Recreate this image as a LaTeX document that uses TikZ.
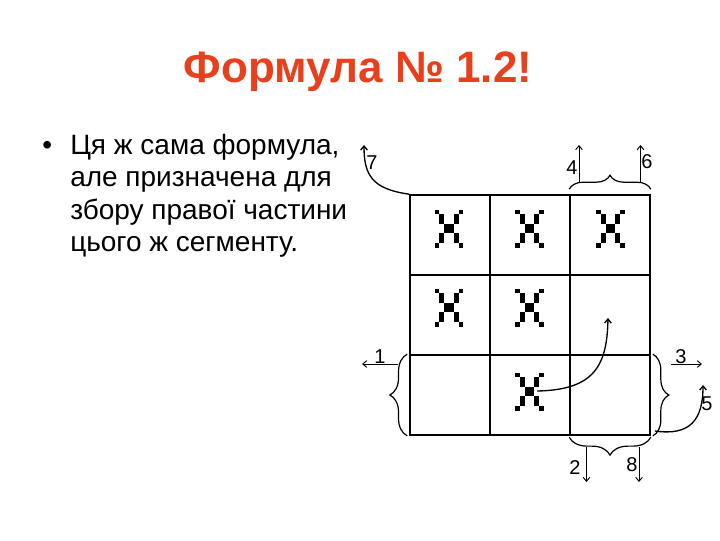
\documentclass[tikz,border=0pt]{standalone}
\usepackage{fontspec}
\setmainfont{Liberation Sans}
\usetikzlibrary{arrows.meta,decorations.pathreplacing}
\definecolor{titlered}{RGB}{232,64,28}
\begin{document}
\begin{tikzpicture}[x=0.75pt,y=-0.75pt,
  cell/.style={draw,line width=1.2pt,minimum width=60pt,minimum height=60pt,inner sep=0pt},
  brc/.style={decorate,line width=0.9pt},
  arr/.style={-{Straight Barb[length=3pt,width=5pt]},line width=0.7pt},
  crv/.style={-{Straight Barb[length=3pt,width=5pt]},line width=1pt},
  lbl/.style={font=\fontsize{15}{17}\selectfont,inner sep=0pt},
  body/.style={font=\fontsize{21}{25}\selectfont,anchor=base west,inner sep=0pt},
  xmark/.pic={
    \foreach \c/\r in {0/0,5/0,1/1,4/1,1/2,4/2,2/3,3/3,2/4,3/4,1/5,4/5,1/6,4/6,0/7,5/7}
      {\fill ({-14.4+4.8*\c},{-19+4.75*\r}) rectangle ++(4.8,4.75);}
  }
]
\useasboundingbox[fill=white] (0,0) rectangle (720,540);

% title
\node[font=\bfseries\fontsize{33}{38}\selectfont,text=titlered,anchor=base,inner sep=0pt] (title) at (358,82.7) {Формула № 1.2!};

% bullet text
\node[body] (bul) at (42,154) {•};
\node[body] (l1) at (70,154) {Ця ж сама формула,};
\node[body] (l2) at (70,186.5) {але призначена для};
\node[body] (l3) at (70,219) {збору правої частини};
\node[body] (l4) at (70,251) {цього ж сегменту.};

% grid cells
\node[cell] (c11) at (450,235) {};
\node[cell] (c12) at (530,235) {};
\node[cell] (c13) at (610,235) {};
\node[cell] (c21) at (450,315) {};
\node[cell] (c22) at (530,315) {};
\node[cell] (c23) at (610,315) {};
\node[cell] (c31) at (450,395) {};
\node[cell] (c32) at (530,395) {};
\node[cell] (c33) at (610,395) {};

% X marks
\pic at (449,228.5) {xmark};
\pic at (529.5,228.5) {xmark};
\pic at (610.5,228.5) {xmark};
\pic at (449,307.5) {xmark};
\pic at (529.5,307.5) {xmark};
\pic at (529.5,391.5) {xmark};

% braces
\draw[brc,decoration={brace,amplitude=10.5pt,raise=3.75pt}] (c13.north west) -- (c13.north east);
\draw[brc,decoration={brace,amplitude=13pt,raise=1.5pt}] (c31.south west) -- (c31.north west);
\draw[brc,decoration={brace,amplitude=12pt,raise=1.5pt}] (c33.north east) -- (c33.south east);
\draw[brc,decoration={brace,amplitude=13.5pt,raise=1pt}] (c33.south east) -- (c33.south west);

% arrow end points
\coordinate (a4s) at (579,182);   \coordinate (a4e) at (579,145);
\coordinate (a6s) at (640.5,182); \coordinate (a6e) at (640.5,145);
\coordinate (a1s) at (398,364);   \coordinate (a1e) at (362,364);
\coordinate (a3s) at (671,364);   \coordinate (a3e) at (702,364);
\coordinate (a2s) at (586.5,447); \coordinate (a2e) at (586.5,482);
\coordinate (a8s) at (639,447);   \coordinate (a8e) at (639,482);
\coordinate (a7e) at (364,145);
\coordinate (a5s) at (655,431);   \coordinate (a5e) at (703,385);
\coordinate (mcs) at (537,391);   \coordinate (mce) at (608,318);

\draw[arr] (a4s) -- (a4e);
\draw[arr] (a6s) -- (a6e);
\draw[arr] (a1s) -- (a1e);
\draw[arr] (a3s) -- (a3e);
\draw[arr] (a2s) -- (a2e);
\draw[arr] (a8s) -- (a8e);
\draw[crv] (c11.north west) .. controls (372,189) and (364,175) .. (a7e);
\draw[crv] (a5s) .. controls (690,436) and (703,420) .. (a5e);
\draw[crv] (mcs) .. controls (595,390) and (607,365) .. (mce);

% labels
\node[lbl] (n7) at (372,163) {7};
\node[lbl] (n4) at (572,168) {4};
\node[lbl] (n6) at (647,162) {6};
\node[lbl] (n1) at (380,357) {1};
\node[lbl] (n3) at (681,357) {3};
\node[lbl] (n5) at (707,404) {5};
\node[lbl] (n2) at (575,468) {2};
\node[lbl] (n8) at (632,465) {8};
\end{tikzpicture}
\end{document}
